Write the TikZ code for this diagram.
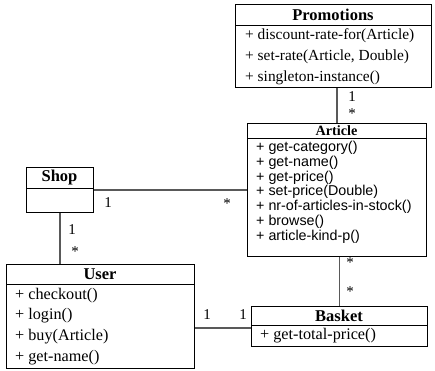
\documentclass[tikz,border=0pt]{standalone}
\usepackage{fontspec}
\setmainfont{Liberation Serif}
\newfontfamily\artfont{Liberation Sans}
\begin{document}
\begin{tikzpicture}[x=1pt,y=-1pt,
  box/.style={draw=black,line width=0.9pt,minimum width=#1,inner sep=0,anchor=north west},
  sep/.style={draw=black,line width=0.9pt},
  ttl/.style={inner sep=0,font=\fontsize{16.5}{16.5}\selectfont\bfseries},
  attl/.style={inner sep=0,font=\fontsize{14.2}{14.2}\selectfont\bfseries},
  meth/.style={inner sep=0,anchor=west,font=\fontsize{16.2}{16.2}\selectfont},
  pmeth/.style={inner sep=0,anchor=west,font=\fontsize{15.4}{15.4}\selectfont},
  ameth/.style={inner sep=0,anchor=west,font=\fontsize{14.3}{14.3}\artfont},
  conn/.style={draw=black!65,line width=1.2pt},
  mult/.style={inner sep=0,font=\fontsize{15}{15}\selectfont}]
\useasboundingbox (0,0) rectangle (435,370);
% Promotions
\node[box=196pt,minimum height=83pt] (promo) at (235,4) {};
\draw[sep] (235,25) -- (431,25);
\node[ttl] (promot) at (333,14.5) {Promotions};
\node[pmeth] (p1) at (245,36) {+ discount-rate-for(Article)};
\node[pmeth] (p2) at (245,57) {+ set-rate(Article, Double)};
\node[pmeth] (p3) at (245,77.5) {+ singleton-instance()};
% Article
\node[box=179pt,minimum height=133pt] (art) at (247,123) {};
\draw[sep] (247,138) -- (426,138);
\node[attl] (artt) at (336.5,130.5) {Article};
\node[ameth] (a1) at (256,147.5) {+ get-category()};
\node[ameth] (a2) at (256,162.4) {+ get-name()};
\node[ameth] (a3) at (256,177.3) {+ get-price()};
\node[ameth] (a4) at (256,192.2) {+ set-price(Double)};
\node[ameth] (a5) at (256,207.1) {+ nr-of-articles-in-stock()};
\node[ameth] (a6) at (256,222) {+ browse()};
\node[ameth] (a7) at (256,236.9) {+ article-kind-p()};
% Shop
\node[box=67pt,minimum height=45pt] (shop) at (26,167) {};
\draw[sep] (26,188) -- (93,188);
\node[ttl] (shopt) at (59.5,177.5) {Shop};
% User
\node[box=188pt,minimum height=104pt] (user) at (6,264) {};
\draw[sep] (6,284) -- (194,284);
\node[ttl] (usert) at (100,274) {User};
\node[meth] (u1) at (15,295.5) {+ checkout()};
\node[meth] (u2) at (15,316) {+ login()};
\node[meth] (u3) at (15,337) {+ buy(Article)};
\node[meth] (u4) at (15,357.5) {+ get-name()};
% Basket
\node[box=176pt,minimum height=40pt] (basket) at (251,306) {};
\draw[sep] (251,325) -- (427,325);
\node[ttl] (baskett) at (339,315.5) {Basket};
\node[meth] (b1) at (260,335.5) {+ get-total-price()};
% connectors
\draw[conn] (promo.south -| art.north) -- (art.north);
\draw[conn] (shop.east) -- (shop.east -| art.west);
\draw[conn] (shop.south) -- (shop.south |- user.north);
\draw[conn] (basket.west |- 0,328) -- (user.east |- 0,328);
\draw[conn] (art.south -| basket.north) -- (basket.north);
% multiplicities
\node[mult] (m1) at (352,97) {1};
\node[mult] (m2) at (352,114) {*};
\node[mult] (m3) at (108,203) {1};
\node[mult] (m4) at (227,204) {*};
\node[mult] (m5) at (72,230) {1};
\node[mult] (m6) at (75,252) {*};
\node[mult] (m7) at (207,315) {1};
\node[mult] (m8) at (243,315) {1};
\node[mult] (m9) at (350,263) {*};
\node[mult] (m10) at (350,292) {*};
\end{tikzpicture}
\end{document}
